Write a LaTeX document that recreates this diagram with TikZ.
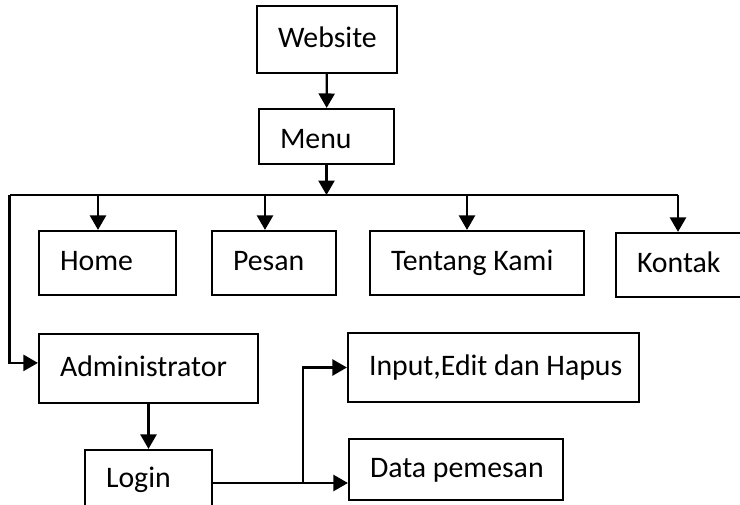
\documentclass[tikz,border=0pt]{standalone}
\usepackage{fontspec}
\setmainfont{Carlito}
\usetikzlibrary{arrows.meta,
                calc}

\begin{document}
\begin{tikzpicture}[
			box/.style = {draw, line width=1.6pt, inner xsep=0.525cm, inner ysep=0pt, align=flush left,
				text height=0.5cm, text depth=0.12cm, font=\fontsize{21.2}{25}\selectfont},
			arr/.style = {line width=1.6pt, -{Triangle[length=0.36cm,width=0.4cm]}},
			]
			\useasboundingbox (0,0) rectangle (18.5,12.6);
			% boxes
			\node[box, text width=2.45cm, minimum height=1.675cm] (web) at (8.175,11.6125) {Website};
			\node[box, text width=2.325cm, minimum height=1.375cm] (menu) at (8.1625,9.1875) {\raisebox{-0.1cm}{Menu}};
			\node[box, text width=2.375cm, minimum height=1.6cm] (home) at (2.6875,6.025) {Home};
			\node[box, text width=2.05cm, minimum height=1.6cm] (pesan) at (6.85,6.025) {Pesan};
			\node[box, text width=4.3cm, minimum height=1.6cm] (tentang) at (11.925,6.025) {\mbox{Tentang Kami}};
			\node[box, text width=2.175cm, minimum height=1.6cm] (kontak) at (17.0125,5.975) {Kontak};
			\node[box, text width=4.425cm, minimum height=1.725cm] (admin) at (3.7125,3.3875) {Administrator};
			\node[box, text width=2.125cm, minimum height=1.5cm] (login) at (3.7125,0.6) {Login};
			\node[box, text width=6.225cm, minimum height=1.725cm] (input) at (12.3375,3.4125) {\mbox{Input,Edit dan Hapus}};
			\node[box, text width=4.3cm, minimum height=1.525cm] (data) at (11.4,0.8625) {\mbox{Data pemesan}};
			% points on the lines
			\coordinate (bl) at (0.2375,7.725);
			\coordinate (br) at (16.95,7.725);
			\coordinate (fork) at (7.575,0.525);
			\coordinate (ad) at ($(admin.west)+(0,0.14)$);
			\coordinate (dt) at ($(data.west)+(0,-0.3375)$);
			% edges
			\draw[arr] (web) -- (menu);
			\draw[arr] (menu) -- (menu |- bl);
			\draw[line width=1.4pt] (br) -- (bl);
			\foreach \x/\n in {2.45/home, 6.625/pesan, 11.675/tentang, 16.95/kontak}{
				\coordinate (d) at (\x,7.725);
				\draw[arr] (d) -- (d |- \n.north);
			}
			\draw[arr] (bl) |- (ad);
			\draw[arr] (admin) -- (login);
			\draw[arr] (login.east |- dt) -- (dt);
			\draw[arr] (fork) |- (input.west);
		\end{tikzpicture}
\end{document}
